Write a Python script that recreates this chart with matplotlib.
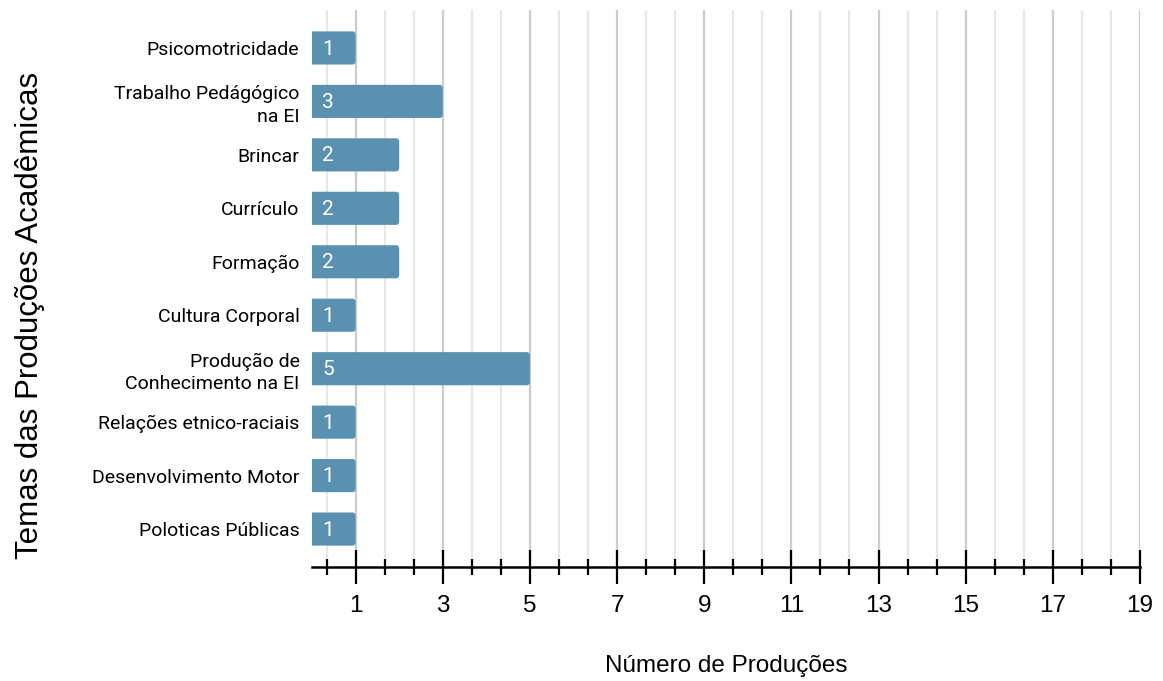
import numpy as np
import matplotlib
matplotlib.use('Agg')
import matplotlib.pyplot as plt
from matplotlib.patches import FancyBboxPatch
from matplotlib.ticker import FixedLocator

plt.rcParams['font.family'] = ['Liberation Sans', 'DejaVu Sans']

temas = ['Psicomotricidade', 'Trabalho Pedágógico\nna EI', 'Brincar', 'Currículo',
         'Formação', 'Cultura Corporal', 'Produção de\nConhecimento na EI',
         'Relações etnico-raciais', 'Desenvolvimento Motor', 'Poloticas Públicas']
producoes = [1, 3, 2, 2, 2, 1, 5, 1, 1, 1]

cor = '#5a91b0'

fig = plt.figure(figsize=(11.63, 6.81), dpi=100)
ax = fig.add_axes([312 / 1163, 1 - 567 / 681, (1140 - 312) / 1163, (567 - 10) / 681])

# barras com cantos arredondados
altura = 0.62
for i, v in enumerate(producoes):
    p = FancyBboxPatch((-0.2, i - altura / 2), v + 0.2, altura,
                       boxstyle='round,pad=0,rounding_size=0.07',
                       mutation_aspect=0.82, fc=cor, ec='none', zorder=3,
                       clip_on=True)
    ax.add_patch(p)
    ax.text(0.24, i + 0.02, str(v), color='white', fontsize=15, va='center',
            ha='left', zorder=4, family=['Roboto', 'DejaVu Sans'])

ax.set_xlim(0, 19)
ax.set_ylim(9.71, -0.71)

ax.set_yticks(range(len(temas)))
ax.set_yticklabels(temas, fontsize=14, linespacing=1.3,
                   family=['Roboto', 'DejaVu Sans'])
ax.tick_params(axis='y', length=0, pad=9)

maiores = np.arange(1, 20, 2)
menores = [m + d for m in maiores for d in (-2 / 3, 2 / 3) if m + d < 19.01]
ax.xaxis.set_major_locator(FixedLocator(maiores))
ax.xaxis.set_minor_locator(FixedLocator(menores))
ax.tick_params(axis='x', which='major', direction='inout', length=24, width=1.6,
               labelsize=17.5, pad=8)
ax.tick_params(axis='x', which='minor', direction='inout', length=12, width=1.6)

ax.grid(True, axis='x', which='major', color='#cccccc', lw=1.6, zorder=0)
ax.grid(True, axis='x', which='minor', color='#e8e8e8', lw=1.6, zorder=0)
ax.set_axisbelow(True)

for s in ['top', 'right', 'left']:
    ax.spines[s].set_visible(False)
ax.spines['bottom'].set_linewidth(1.8)

ax.set_xlabel('Número de Produções', fontsize=17.5)
ax.xaxis.set_label_coords(0.5, -0.158)
ax.set_ylabel('Temas das Produções Acadêmicas', fontsize=22.5)
ax.yaxis.set_label_coords(-0.322, 0.452)

fig.savefig('out.png', dpi=100)
